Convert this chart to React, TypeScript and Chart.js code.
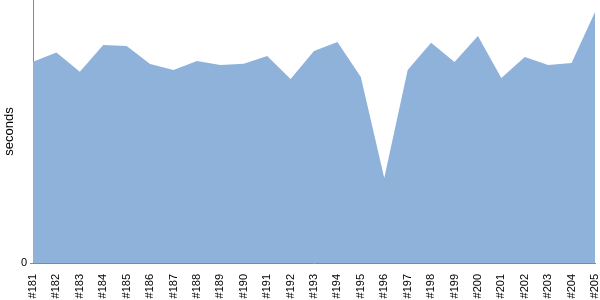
import React, { useEffect, useRef } from "react";
import { Chart, registerables } from "chart.js";

Chart.register(...registerables);

const builds = [
  "#181", "#182", "#183", "#184", "#185", "#186", "#187", "#188", "#189",
  "#190", "#191", "#192", "#193", "#194", "#195", "#196", "#197", "#198",
  "#199", "#200", "#201", "#202", "#203", "#204", "#205",
];

const durations = [
  76.5, 80.0, 72.7, 82.9, 82.5, 75.7, 73.4, 76.8, 75.3, 75.8, 78.7, 70.0,
  80.6, 84.0, 70.7, 32.3, 73.4, 83.7, 76.4, 86.3, 70.3, 78.3, 75.3, 76.0, 95.4,
];

const yTicks = [0];
const yMax = 100;

export default function App() {
  const ref = useRef<HTMLCanvasElement | null>(null);

  useEffect(() => {
    document.body.style.margin = "0";
    const canvas = ref.current;
    if (!canvas) return;
    const font = "'Liberation Sans', Arial, sans-serif";
    const chart = new Chart(canvas, {
      type: "line",
      data: {
        labels: builds,
        datasets: [
          {
            data: durations,
            fill: "origin",
            backgroundColor: "#8fb2da",
            borderWidth: 0,
            borderColor: "rgba(0,0,0,0)",
            pointRadius: 0,
            tension: 0,
          },
        ],
      },
      options: {
        animation: false,
        responsive: false,
        maintainAspectRatio: false,
        layout: { padding: { top: 0, right: 5, bottom: 0, left: 0 } },
        plugins: {
          legend: { display: false },
          tooltip: { enabled: false },
        },
        scales: {
          x: {
            offset: false,
            grid: { display: false },
            border: { display: true, color: "#888888", width: 1 },
            ticks: {
              autoSkip: false,
              minRotation: 90,
              maxRotation: 90,
              padding: 3,
              color: "#000000",
              font: { family: font, size: 11 },
            },
            afterFit: (scale: any) => {
              scale.height = 37;
              scale.paddingLeft = 0;
              scale.paddingRight = 0;
            },
          },
          y: {
            min: 0,
            max: yMax,
            afterBuildTicks: (scale: any) => {
              scale.ticks = yTicks.map((v) => ({ value: v }));
            },
            grid: {
              drawOnChartArea: false,
              drawTicks: true,
              tickLength: 3,
              color: "#888888",
            },
            border: { display: true, color: "#888888", width: 1 },
            ticks: {
              padding: 3,
              color: "#000000",
              font: { family: font, size: 11 },
            },
            title: {
              display: true,
              text: "seconds",
              color: "#000000",
              font: { family: font, size: 13 },
              padding: { top: 2, bottom: 0 },
            },
            afterFit: (scale: any) => {
              scale.width = 33;
              scale.paddingTop = 0;
              scale.paddingBottom = 0;
            },
          },
        },
      },
    });
    return () => chart.destroy();
  }, []);

  return <canvas ref={ref} width={600} height={300} style={{ display: "block" }} />;
}
